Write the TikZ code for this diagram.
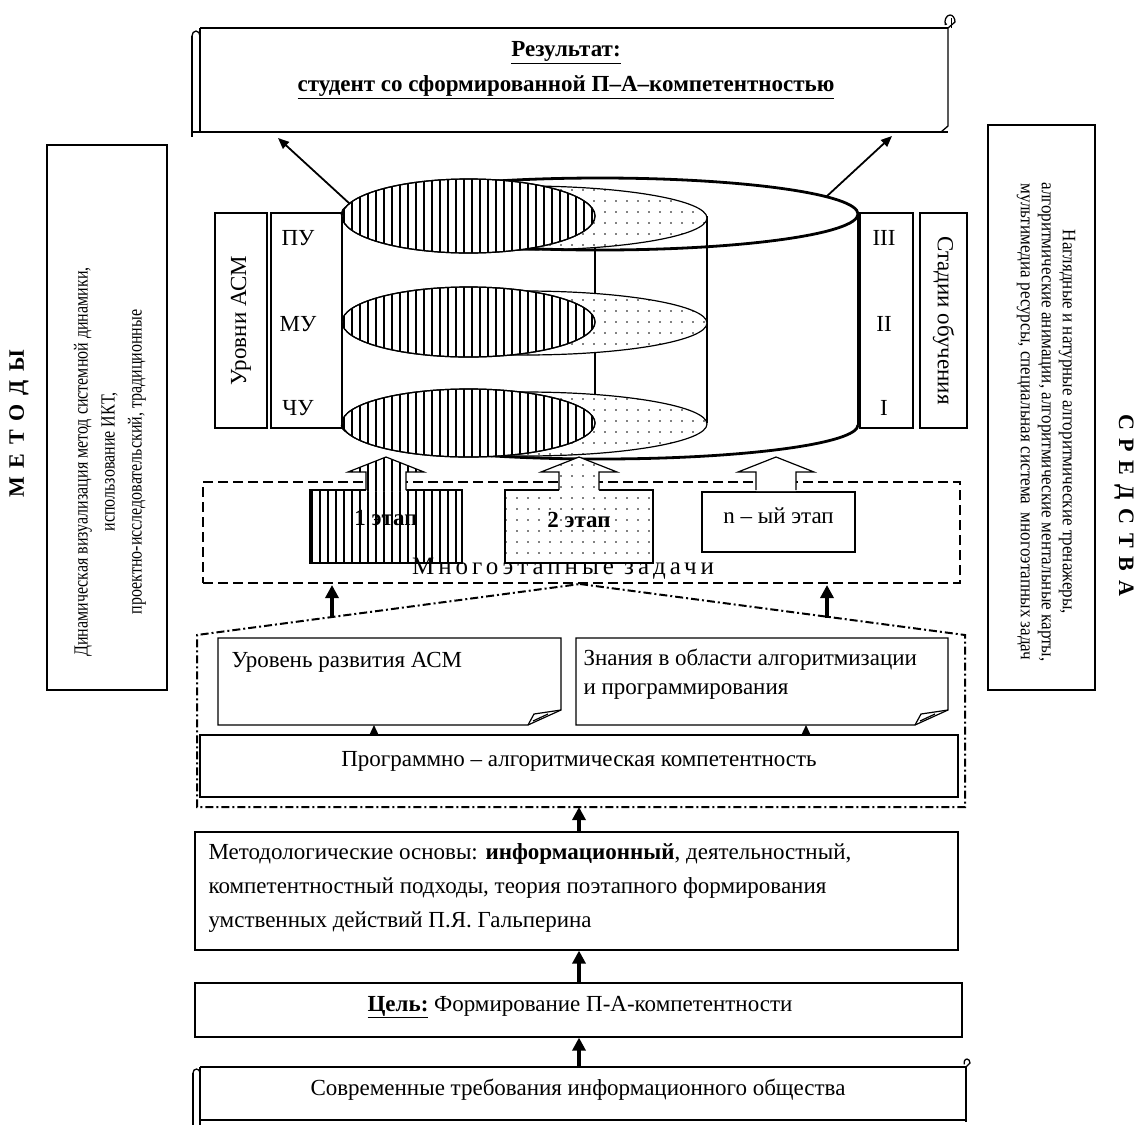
\documentclass[tikz,border=0pt]{standalone}
\usepackage{fontspec}
\setmainfont{Liberation Serif}
\usetikzlibrary{arrows.meta,patterns.meta}
\begin{document}
\begin{tikzpicture}[x=1pt,y=-1pt,
  box/.style={draw,line width=1.2pt,inner sep=0pt},
  fat/.style={line width=3.5pt,-{Triangle[length=13pt,width=13pt]}},
  thinarr/.style={line width=1.8pt,-{Triangle[length=11pt,width=9pt]}},
  smallarr/.style={line width=1.5pt,-{Triangle[length=9pt,width=8pt]}},
  txt/.style={font=\fontsize{23}{32}\selectfont},
  hatch/.style={pattern={Lines[angle=90,distance=8pt,line width=1.3pt]}},
  dotp/.style={pattern={Dots[distance=11pt,radius=0.9pt]}},
  bold3/.style={line width=2.8pt},
  dashbox/.style={draw,line width=2.4pt,dash pattern=on 10pt off 5pt},
  dashdot/.style={line width=2pt,dash pattern=on 8pt off 3pt on 2pt off 3pt},
]
\useasboundingbox (0,0) rectangle (1142,1125);
\fill[white] (0,0) rectangle (1142,1125);

% ---------- top scroll ----------
\draw[line width=1.3pt] (200,28) -- (948,28);
\draw[line width=1.3pt] (192,132) -- (948,132);
\draw[line width=1.3pt] (192,36) -- (192,137);
\draw[line width=1.3pt] (200,28) -- (200,132);
\draw[line width=1.3pt] (192,36) arc[start angle=180,end angle=360,x radius=4,y radius=5] -- (200,42);
\draw[line width=1.3pt] (948,28) -- (948,126) -- (941,132);
\draw[line width=1.3pt] (948,28) -- (955,22) arc[start angle=0,end angle=-200,x radius=5,y radius=7] -- (947,24);
\draw[line width=1pt] (951,28) -- (951,18);
\node[font=\fontsize{23}{35}\selectfont\bfseries,align=center] (res) at (566,70)
  {\underline{Результат:}\\\underline{студент со сформированной П--А--компетентностью}};
\coordinate (scrL) at (278,138);
\coordinate (scrR) at (892,136);

% ---------- side boxes ----------
\node[box,minimum width=120pt,minimum height=545pt] (L) at (107,417.5) {};
\node[box,minimum width=107pt,minimum height=565pt] (R) at (1041.5,407.5) {};
\node[font=\fontsize{20}{27}\selectfont\addfontfeature{FakeStretch=0.8},rotate=90,align=center] (Ltxt) at (110,462)
  {Динамическая визуализация метод системной динамики,\\использование ИКТ,\\проектно-исследовательский, традиционные};
\node[font=\fontsize{19}{21}\selectfont\addfontfeature{FakeStretch=0.9},rotate=-90,align=center] (Rtxt) at (1046,422)
  {Наглядные и натурные алгоритмические тренажеры,\\алгоритмические анимации, алгоритмические ментальные карты,\\мультимедиа ресурсы, специальная система\ \ многоэтапных задач};
\node[rotate=90,font=\fontsize{22}{24}\selectfont\bfseries\addfontfeature{LetterSpace=15}] (metody) at (19,424) {М Е Т О Д Ы};
\node[rotate=-90,font=\fontsize{22}{24}\selectfont\bfseries\addfontfeature{LetterSpace=15}] (sredstva) at (1124,505) {С Р Е Д С Т В А};

% ---------- level boxes ----------
\node[box,minimum width=52pt,minimum height=215pt] (lvA) at (241,320.5) {};
\node[box,minimum width=71pt,minimum height=215pt] (lvB) at (306.5,320.5) {};
\node[box,minimum width=53pt,minimum height=215pt] (stC) at (886.5,320.5) {};
\node[box,minimum width=47pt,minimum height=215pt] (stD) at (943.5,320.5) {};
\node[txt,rotate=90] at (lvA) {Уровни АСМ};
\node[txt,rotate=-90] at (stD) {Стадии обучения};
\node[txt] (pu) at (298,238) {ПУ};
\node[txt] (mu) at (298,324) {МУ};
\node[txt] (chu) at (298,408) {ЧУ};
\node[txt] (s3) at (884,238) {III};
\node[txt] (s2) at (884,324) {II};
\node[txt] (s1) at (884,408) {I};

% ---------- cylinder ----------
\draw[line width=1.2pt] (342,216) -- (342,423);
\draw[line width=1.2pt] (595,216) -- (595,423);
\draw[line width=1.2pt] (707,216) -- (707,423);
\draw[bold3] (858,214) -- (858,425);
\draw[bold3] (858,425) arc[start angle=0,end angle=180,x radius=258,y radius=34];
% top level
\filldraw[fill=white,line width=1.2pt] (524.5,218) ellipse[x radius=182.5,y radius=32];
\fill[dotp] (524.5,218) ellipse[x radius=182.5,y radius=32];
\draw[bold3] (600,214) ellipse[x radius=258,y radius=36];
\filldraw[fill=white,line width=1.2pt] (468.5,216) ellipse[x radius=126.5,y radius=37];
\fill[hatch] (468.5,216) ellipse[x radius=126.5,y radius=37];
\draw[line width=1.2pt] (468.5,216) ellipse[x radius=126.5,y radius=37];
% middle level
\filldraw[fill=white,line width=1.2pt] (524.5,323) ellipse[x radius=182.5,y radius=32];
\fill[dotp] (524.5,323) ellipse[x radius=182.5,y radius=32];
\filldraw[fill=white,line width=1.2pt] (468.5,322) ellipse[x radius=126.5,y radius=35];
\fill[hatch] (468.5,322) ellipse[x radius=126.5,y radius=35];
\draw[line width=1.2pt] (468.5,322) ellipse[x radius=126.5,y radius=35];
% bottom level
\filldraw[fill=white,line width=1.2pt] (524.5,424) ellipse[x radius=182.5,y radius=32];
\fill[dotp] (524.5,424) ellipse[x radius=182.5,y radius=32];
\filldraw[fill=white,line width=1.2pt] (468.5,423) ellipse[x radius=126.5,y radius=34];
\fill[hatch] (468.5,423) ellipse[x radius=126.5,y radius=34];
\draw[line width=1.2pt] (468.5,423) ellipse[x radius=126.5,y radius=34];
\coordinate (cylL) at (350,204);
\coordinate (cylR) at (826,197);
\draw[thinarr] (cylL) -- (scrL);
\draw[thinarr] (cylR) -- (scrR);

% ---------- multi-stage tasks ----------
\node[dashbox,minimum width=757pt,minimum height=101pt,inner sep=0pt] (tasks) at (581.5,532.5) {};
\node[box,minimum width=152pt,minimum height=73pt,fill=white] (st1) at (386,526.5) {};
\fill[hatch] (st1.north west) rectangle (st1.south east);
\node[box,minimum width=148pt,minimum height=73pt,fill=white] (st2) at (579,526.5) {};
\fill[dotp] (st2.north west) rectangle (st2.south east);
\node[box,minimum width=153pt,minimum height=60pt,fill=white] (stn) at (778.5,522) {};
\node[font=\fontsize{23}{26}\selectfont\bfseries] at (386,518) {1 этап};
\node[font=\fontsize{23}{26}\selectfont\bfseries] at (579,520) {2 этап};
\node[txt] at (778.5,516) {n -- ый этап};
\node[font=\fontsize{25}{28}\selectfont\addfontfeature{LetterSpace=16}] (taskslbl) at (563,569) {Многоэтапные задачи};
% block arrows
\foreach \cx in {386,579,776}{
  \fill[white] (\cx-20,491) -- (\cx-20,472) -- (\cx-38,472) -- (\cx,457) -- (\cx+38,472) -- (\cx+20,472) -- (\cx+20,491) -- cycle;
}
\fill[hatch] (366,491) -- (366,472) -- (348,472) -- (386,457) -- (424,472) -- (406,472) -- (406,491) -- cycle;
\fill[dotp] (559,491) -- (559,472) -- (541,472) -- (579,457) -- (617,472) -- (599,472) -- (599,491) -- cycle;
\foreach \cx in {386,579,776}{
  \draw[line width=1.2pt] (\cx-20,490) -- (\cx-20,472) -- (\cx-38,472) -- (\cx,457) -- (\cx+38,472) -- (\cx+20,472) -- (\cx+20,490);
}

% ---------- competence block ----------
\coordinate (peak) at (580,584);
\draw[dashdot] (peak) -- (965,635) -- (965,807) -- (197,807) -- (197,635) -- cycle;
\coordinate (aL0) at (332,618);
\coordinate (aL1) at (332,585);
\coordinate (aR0) at (827,618);
\coordinate (aR1) at (827,585);
\draw[fat] (aL0) -- (aL1);
\draw[fat] (aR0) -- (aR1);

\draw[line width=1.2pt] (218,638) -- (561,638) -- (561,710) -- (528,725) -- (218,725) -- cycle;
\draw[line width=1.2pt] (528,725) -- (534,714) -- (561,710);
\draw[line width=1.2pt] (533,721) -- (548,714);
\draw[line width=1.2pt] (576,638) -- (948,638) -- (948,710) -- (915,725) -- (576,725) -- cycle;
\draw[line width=1.2pt] (915,725) -- (921,714) -- (948,710);
\draw[line width=1.2pt] (920,721) -- (935,714);
\node[txt,anchor=west] (n1txt) at (228,662) {Уровень развития АСМ};
\node[font=\fontsize{23}{29}\selectfont,anchor=north west,align=left] (n2txt) at (580,645) {Знания в области алгоритмизации\\и программирования};
\coordinate (n1) at (374,725);
\coordinate (n2) at (806,725);

\node[box,minimum width=758pt,minimum height=62pt] (prog) at (579,766) {};
\node[txt] at (579,761) {Программно -- алгоритмическая компетентность};
\draw[smallarr] (prog.north -| n1) -- (n1);
\draw[smallarr] (prog.north -| n2) -- (n2);

\node[box,minimum width=763pt,minimum height=118pt] (met) at (576.5,891) {};
\node[font=\fontsize{23}{34}\selectfont,anchor=north west,align=left] at (205,840)
  {Методологические основы: \textbf{информационный}, деятельностный,\\компетентностный подходы, теория поэтапного формирования\\умственных действий П.Я. Гальперина};

\node[box,minimum width=767pt,minimum height=54pt] (goal) at (578.5,1010) {};
\node[txt] at (580,1007) {\textbf{\underline{Цель:}} Формирование П-А-компетентности};

% ---------- bottom scroll ----------
\draw[line width=1.3pt] (200,1067) -- (966,1067);
\draw[line width=1.3pt] (200,1120) -- (966,1120);
\draw[line width=1.3pt] (193,1073) -- (193,1125);
\draw[line width=1.3pt] (200,1067) -- (200,1125);
\draw[line width=1.3pt] (193,1073) arc[start angle=180,end angle=360,x radius=3.5,y radius=4];
\draw[line width=1.3pt] (966,1067) -- (966,1122);
\draw[line width=1.3pt] (966,1067) -- (970,1063) arc[start angle=0,end angle=-200,x radius=3,y radius=4];
\coordinate (scrB) at (579,1067);
\node[txt] (req) at (578,1090) {Современные требования информационного общества};

\draw[fat] (scrB) -- (goal.south -| scrB);
\draw[fat] (goal.north -| scrB) -- (met.south -| scrB);
\draw[fat] (met.north -| scrB) -- (579,807);
\end{tikzpicture}
\end{document}
